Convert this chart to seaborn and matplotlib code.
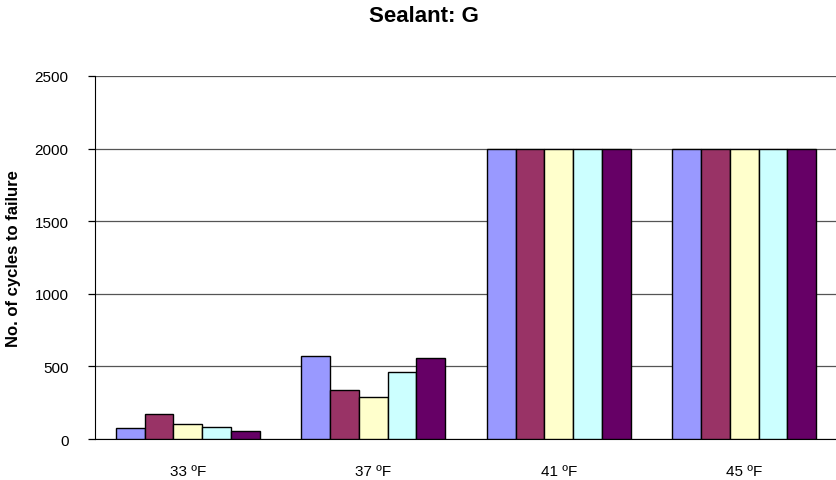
import pandas as pd
import numpy as np
import seaborn as sns
import matplotlib.pyplot as plt

# Datos
temperaturas = ['33 ºF', '37 ºF', '41 ºF', '45 ºF']
serie1 = [76, 574, 2000, 2000]
serie2 = [172, 340, 2000, 2000]
serie3 = [105, 290, 2000, 2000]
serie4 = [85, 459, 2000, 2000]
serie5 = [55, 556, 2000, 2000]
series = ['1', '2', '3', '4', '5']
colores = ['#9999FF', '#993366', '#FFFFCC', '#CCFFFF', '#660066']

valores = [serie1, serie2, serie3, serie4, serie5]
filas = []
for nombre, vals in zip(series, valores):
    for t, v in zip(temperaturas, vals):
        filas.append({'Temperatura': t, 'Serie': nombre, 'Ciclos': v})
df = pd.DataFrame(filas)

sns.set_style('white')
plt.rcParams['font.family'] = ['Liberation Sans', 'DejaVu Sans']
plt.rcParams['text.color'] = 'black'
plt.rcParams['axes.labelcolor'] = 'black'
plt.rcParams['xtick.color'] = 'black'
plt.rcParams['ytick.color'] = 'black'

fig = plt.figure(figsize=(8.37, 4.81), dpi=100)
ax = fig.add_axes([0.1135, 0.0852, 0.8865, 0.7548])

sns.barplot(data=df, x='Temperatura', y='Ciclos', hue='Serie', order=temperaturas,
            hue_order=series, palette=colores, saturation=1, width=0.776, gap=0,
            edgecolor='black', linewidth=1, legend=False, ax=ax, zorder=3)

ax.set_ylim(0, 2500)
ax.set_xlim(-0.5, 3.5)
ax.set_yticks([0, 500, 1000, 1500, 2000, 2500])
ax.yaxis.grid(True, color='#555555', linewidth=0.9, zorder=0)
ax.set_axisbelow(True)

for lado in ['top', 'right']:
    ax.spines[lado].set_visible(False)
ax.spines['left'].set_color('black')
ax.spines['bottom'].set_color('black')

# Marcas entre categorias
ax.set_xticks(np.arange(0.5, 3.5, 1), minor=True)
ax.tick_params(axis='x', which='major', length=0, labelsize=11, pad=18)
ax.tick_params(axis='x', which='minor', length=5, direction='out', color='black', width=0.9)
ax.tick_params(axis='y', length=5, direction='out', color='black', width=0.9,
               labelsize=11, pad=14, left=True)

ax.set_xlabel('')
ax.set_ylabel('No. of cycles to failure', fontsize=12, fontweight='bold', labelpad=10)

fig.text(0.506, 0.965, 'Sealant: G', ha='center', va='center', fontsize=16, fontweight='bold')

plt.savefig('out.png', dpi=100)
